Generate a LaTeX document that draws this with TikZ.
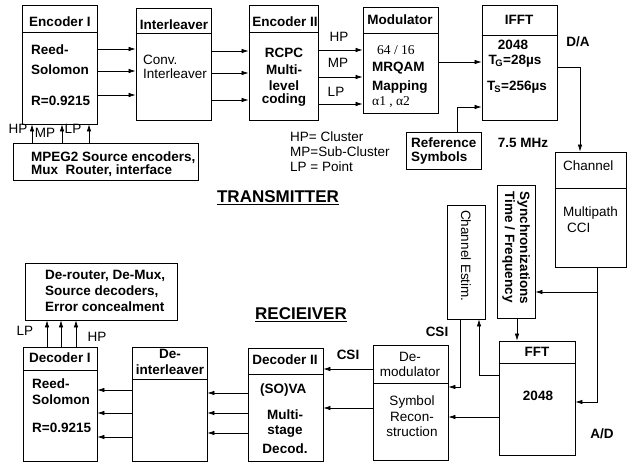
\documentclass[tikz,border=0pt]{standalone}
\usepackage{fontspec}
\setmainfont{Liberation Sans}
\newfontfamily\serifff{Liberation Serif}
\usetikzlibrary{arrows.meta}
\newcommand\fsz{\fontsize{13.5}{15}\selectfont}
\newcommand\mybox[5]{\node[boxst, minimum width={(#4-#2)*1pt}, minimum height={(#5-#3)*1pt}] (#1) at ({(#2+#4)/2},{(#3+#5)/2}) {};}
\newcommand\mysep[2]{\draw[ln] (#1.west |- 0,#2) -- (#1.east |- 0,#2);}
\begin{document}
\begin{tikzpicture}[x=1pt,y=-1pt,
 boxst/.style={draw, line width=0.8pt, inner sep=0pt, rectangle},
 arr/.style={-{Latex[length=7pt,width=4.5pt]}, line width=0.7pt},
 ln/.style={line width=0.8pt},
 bt/.style={font=\fsz\bfseries, inner sep=0pt},
 rt/.style={font=\fsz, inner sep=0pt},
 st/.style={font=\fsz\serifff, inner sep=0pt},
 big/.style={font=\fontsize{17}{19}\selectfont\bfseries, inner sep=0pt}]
\useasboundingbox (0,0) rectangle (627,463);
% boxes
\mybox{enc1}{22}{5}{97}{124} \mysep{enc1}{32}
\mybox{intl}{136}{8}{211}{120} \mysep{intl}{33}
\mybox{enc2}{249}{5}{318}{120} \mysep{enc2}{32}
\mybox{mod}{363}{7}{438}{113} \mysep{mod}{33}
\mybox{ifft}{482}{5}{557}{120} \mysep{ifft}{35}
\mybox{mpeg}{13}{143}{198}{180}
\mybox{ref}{406}{132}{481}{169}
\mybox{chan}{555}{152}{626}{267} \mysep{chan}{188}
\mybox{sync}{497}{185}{535}{318}
\mybox{chest}{447}{205}{485}{319}
\mybox{fft}{499}{341}{575}{455} \mysep{fft}{363}
\mybox{demod}{373}{345}{448}{460} \mysep{demod}{383}
\mybox{dec2}{248}{348}{323}{461} \mysep{dec2}{374}
\mybox{deint}{132}{347}{207}{461} \mysep{deint}{379}
\mybox{dec1}{23}{347}{97}{461} \mysep{dec1}{370}
\mybox{derout}{25}{263}{177}{320}
% transmitter texts
\node[bt] at (60,22) {Encoder I};
\node[bt,anchor=west] at (31,50) {Reed-};
\node[bt,anchor=west] at (31,70) {Solomon};
\node[bt,anchor=west] at (31,101) {R=0.9215};
\node[bt] at (174,25) {Interleaver};
\node[rt,anchor=west] at (143,60) {Conv.};
\node[rt,anchor=west] at (143,74) {Interleaver};
\node[bt] at (285,22) {Encoder II};
\node[bt] at (284,53) {RCPC};
\node[bt] at (284,70) {Multi-};
\node[bt] at (284,86) {level};
\node[bt] at (284,100) {coding};
\node[bt] at (400,20) {Modulator};
\node[st,anchor=west] at (377,50) {64 / 16};
\node[bt,anchor=west] at (372,68) {MRQAM};
\node[bt,anchor=west] at (372,87) {Mapping};
\node[st,anchor=west] at (372,102) {α1 , α2};
\node[bt] at (519,20) {IFFT};
\node[bt] at (513,45) {2048};
\node[bt] at (515,61) {T\kern-1.5pt\textsubscript{G}=28µs};
\node[bt] at (517,87) {T\kern-1pt\textsubscript{S}=256µs};
\node[bt] at (578,42) {D/A};
\node[bt] at (523,143) {7.5 MHz};
\node[bt,anchor=west] at (411,143) {Reference};
\node[bt,anchor=west] at (411,158) {Symbols};
\node[rt] at (339,37) {HP};
\node[rt] at (338,63) {MP};
\node[rt] at (336,92) {LP};
\node[rt,anchor=west] at (290,137) {HP= Cluster};
\node[rt,anchor=west] at (290,152) {MP=Sub-Cluster};
\node[rt,anchor=west] at (290,167) {LP = Point};
\node[bt,anchor=west] at (31,158) {MPEG2 Source encoders,};
\node[bt,anchor=west] at (31,171) {Mux\ \ Router, interface};
\node[rt] at (18,129) {HP};
\node[rt] at (45,133) {MP};
\node[rt] at (73,129) {LP};
\node[big] at (278,198) {\underline{TRANSMITTER}};
% channel side
\node[rt,anchor=west] at (563,166) {Channel};
\node[rt,anchor=west] at (563,213) {Multipath};
\node[rt,anchor=west] at (567,228) {CCI};
\node[bt,rotate=-90,align=left] at (516,248) {Synchronizations\\Time / Frequency};
\node[rt,rotate=-90] at (466,256) {Channel Estim.};
% receiver texts
\node[bt] at (537,352) {FFT};
\node[bt] at (538,396) {2048};
\node[bt] at (602,434) {A/D};
\node[bt] at (437,332) {CSI};
\node[rt] at (410,357) {De-};
\node[rt] at (410,372) {modulator};
\node[rt] at (412,402) {Symbol};
\node[rt] at (412,417) {Recon-};
\node[rt] at (412,432) {struction};
\node[bt] at (348,355) {CSI};
\node[bt] at (285,360) {Decoder II};
\node[bt,anchor=west] at (260,390) {(SO)VA};
\node[bt] at (285,415) {Multi-};
\node[bt] at (285,432) {stage};
\node[bt] at (285,449) {Decod.};
\node[bt] at (170,354) {De-};
\node[bt] at (170,370) {interleaver};
\node[bt] at (60,358) {Decoder I};
\node[bt,anchor=west] at (32,384) {Reed-};
\node[bt,anchor=west] at (32,400) {Solomon};
\node[bt,anchor=west] at (32,428) {R=0.9215};
\node[big] at (301,315) {\underline{RECIEIVER}};
\node[rt] at (25,331) {LP};
\node[rt] at (97,337) {HP};
\node[bt,anchor=west] at (45,276) {De-router, De-Mux,};
\node[bt,anchor=west] at (45,292) {Source decoders,};
\node[bt,anchor=west] at (45,307) {Error concealment};
% connectors transmitter
\foreach \yy in {49,71,95} \draw[arr] (enc1.east |- 0,\yy) -- (intl.west |- 0,\yy);
\foreach \yy in {51,73,100} \draw[arr] (intl.east |- 0,\yy) -- (enc2.west |- 0,\yy);
\foreach \yy in {50,77,104} \draw[arr] (enc2.east |- 0,\yy) -- (mod.west |- 0,\yy);
\draw[arr] (mod.east |- 0,62) -- (ifft.west |- 0,62);
\draw[arr] (ref.north -| 457,0) |- (ifft.west |- 0,107);
\foreach \xx in {32,62,89} \draw[arr] (mpeg.north -| \xx,0) -- (enc1.south -| \xx,0);
\draw[arr] (ifft.east |- 0,67) -| (chan.north -| 580,0);
% channel / sync / fft
\draw[arr] (chan.south -| 597,0) |- (fft.east |- 0,402);
\draw[arr] (chan.south -| 597,0) |- (sync.east |- 0,292);
\draw[arr] (sync.south -| 517,0) -- (fft.north -| 517,0);
\draw[arr] (fft.west |- 0,375) -| (chest.south -| 479,0);
\draw[arr] (chest.south -| 460,0) |- (demod.east |- 0,387);
\draw[arr] (fft.west |- 0,417) -- (demod.east |- 0,417);
% receiver chain
\draw[arr] (demod.west |- 0,369) -- (dec2.east |- 0,369);
\draw[arr] (demod.west |- 0,408) -- (dec2.east |- 0,408);
\foreach \yy in {393,413,433} \draw[arr] (dec2.west |- 0,\yy) -- (deint.east |- 0,\yy);
\foreach \yy in {390,413,437} \draw[arr] (deint.west |- 0,\yy) -- (dec1.east |- 0,\yy);
\foreach \xx in {47,61,76} \draw[arr] (dec1.north -| \xx,0) -- (derout.south -| \xx,0);
\end{tikzpicture}
\end{document}
